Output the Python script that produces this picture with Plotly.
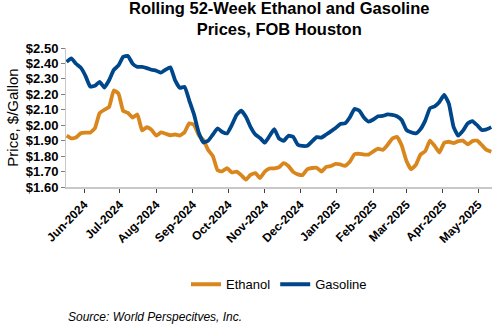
import pandas as pd
import plotly.graph_objects as go

# Dates: every 4 days from 17 May 2024 to 12 May 2025
dates = pd.date_range("2024-05-17", "2025-05-12", freq="4D")

ethanol = [
    1.932, 1.915, 1.920, 1.948, 1.952, 1.952, 1.980, 2.078, 2.100, 2.118,
    2.225, 2.205, 2.092, 2.080, 2.050, 2.070, 1.966, 1.987, 1.970, 1.933,
    1.953, 1.945, 1.935, 1.940, 1.933, 1.955, 2.012, 2.003, 1.936, 1.905,
    1.840, 1.800, 1.708, 1.702, 1.722, 1.694, 1.700, 1.677, 1.648, 1.680,
    1.690, 1.658, 1.700, 1.720, 1.720, 1.728, 1.755, 1.736, 1.698, 1.682,
    1.677, 1.715, 1.723, 1.725, 1.700, 1.730, 1.736, 1.749, 1.746, 1.737,
    1.763, 1.812, 1.815, 1.810, 1.810, 1.830, 1.848, 1.840, 1.872, 1.913,
    1.925, 1.870, 1.770, 1.715, 1.743, 1.810, 1.832, 1.900, 1.866, 1.823,
    1.885, 1.893, 1.885, 1.897, 1.900, 1.876, 1.897, 1.900, 1.871, 1.840,
    1.828,
]

gasoline = [
    2.410, 2.433, 2.398, 2.373, 2.320, 2.250, 2.255, 2.281, 2.244, 2.291,
    2.358, 2.387, 2.443, 2.449, 2.398, 2.378, 2.378, 2.370, 2.359, 2.353,
    2.340, 2.360, 2.375, 2.290, 2.242, 2.248, 2.160, 2.070, 1.952, 1.888,
    1.900, 1.940, 1.980, 1.956, 1.947, 2.000, 2.066, 2.095, 2.055, 1.988,
    1.940, 1.917, 1.887, 1.930, 1.975, 1.915, 1.898, 1.932, 1.925, 1.874,
    1.866, 1.867, 1.895, 1.923, 1.920, 1.940, 1.960, 1.982, 2.008, 2.012,
    2.050, 2.105, 2.095, 2.050, 2.024, 2.037, 2.058, 2.060, 2.070, 2.067,
    2.058, 2.034, 1.970, 1.954, 1.947, 1.975, 2.030, 2.110, 2.122, 2.150,
    2.196, 2.140, 1.990, 1.932, 1.965, 2.012, 2.027, 2.000, 1.969, 1.973,
    1.988,
]

series_names = ["Ethanol", "Gasoline"]
colors = ["#D9861C", "#00468B"]

fig = go.Figure()
for name, vals, col in zip(series_names, [ethanol, gasoline], colors):
    fig.add_trace(go.Scatter(
        x=dates, y=vals, mode="lines", name=name,
        line=dict(color=col, width=3.8, shape="spline", smoothing=0.4),
    ))

fig.update_layout(
    width=500, height=330,
    margin=dict(l=66, r=8, t=48, b=143),
    paper_bgcolor="white", plot_bgcolor="white",
    font=dict(family="Liberation Sans, Arial, sans-serif", color="#000000"),
    showlegend=True,
    legend=dict(
        orientation="h", x=0.5, xanchor="center", y=-0.70, yanchor="middle",
        font=dict(size=13, color="#000000"),
        itemwidth=30, traceorder="normal",
    ),
    annotations=[
        dict(
            text="<b>Rolling 52-Week Ethanol and Gasoline<br>Prices, FOB Houston</b>",
            xref="paper", yref="paper", x=0.5, y=1.06,
            xanchor="center", yanchor="bottom", showarrow=False,
            font=dict(size=16.5, color="#000000"),
        ),
        dict(
            text="<i>Source: World Perspecitves, Inc.</i>",
            xref="paper", yref="paper", x=0.0, y=-0.935,
            xanchor="left", yanchor="middle", showarrow=False,
            font=dict(size=12, color="#000000"),
        ),
    ],
)

fig.update_xaxes(
    type="date",
    range=["2024-05-16 12:00", "2025-05-12 14:00"],
    tickformat="%b-%Y", dtick="M1", tick0="2024-06-01",
    tickangle=-45,
    tickfont=dict(size=12, family="Liberation Sans, Arial, sans-serif", weight="bold"),
    showgrid=False, zeroline=False,
    showline=True, linecolor="#C8C8C8", linewidth=2,
    ticks="outside", ticklen=4, tickcolor="#404040", tickwidth=1,
)

fig.update_yaxes(
    range=[1.60, 2.50], dtick=0.1, tick0=1.6,
    tickprefix="$", tickformat=".2f",
    tickfont=dict(size=13, family="Liberation Sans, Arial, sans-serif", weight="bold"),
    title=dict(text="Price, $/Gallon", font=dict(size=15), standoff=3),
    showgrid=False, zeroline=False,
    showline=True, linecolor="#C8C8C8", linewidth=1,
    ticks="outside", ticklen=4, tickcolor="#808080", tickwidth=1,
)

fig.write_html("out.html")
